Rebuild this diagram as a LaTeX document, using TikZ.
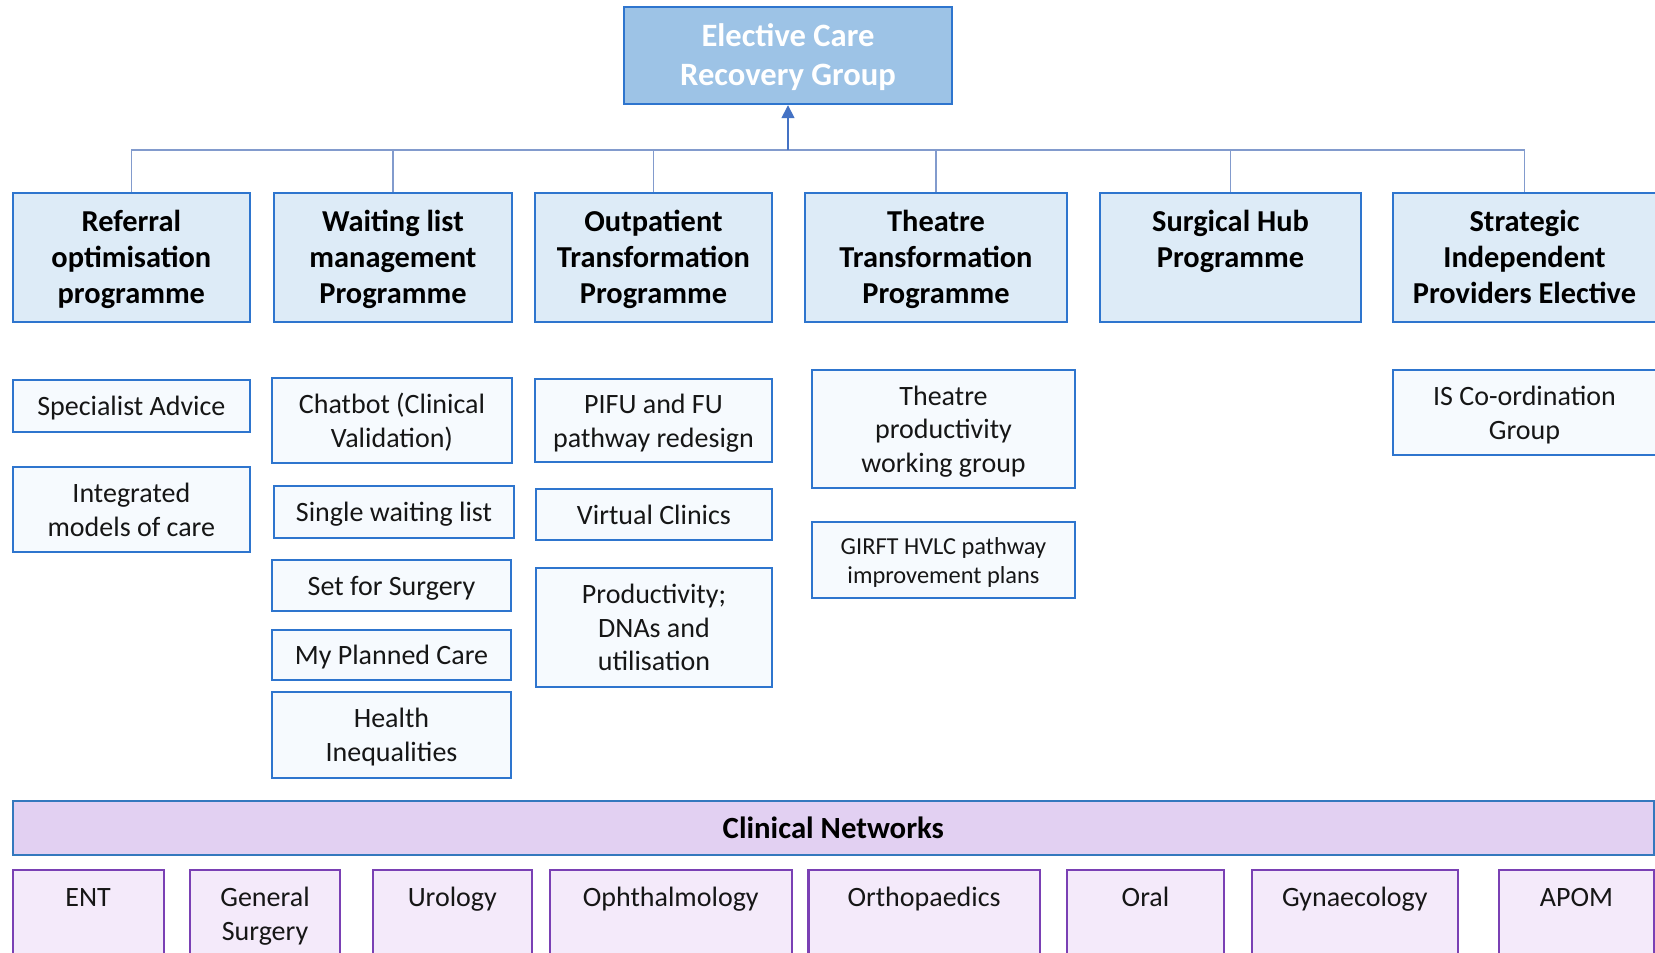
\documentclass[tikz,border=0pt]{standalone}
\usepackage{fontspec}
\setmainfont{Carlito}
\usetikzlibrary{arrows.meta}

\definecolor{topfill}{RGB}{157,195,230}
\definecolor{boxline}{RGB}{46,117,206}
\definecolor{progfill}{RGB}{221,235,247}
\definecolor{subfill}{RGB}{246,250,254}
\definecolor{connline}{RGB}{130,155,205}
\definecolor{arrowblue}{RGB}{68,114,196}
\definecolor{netfill}{RGB}{226,208,242}
\definecolor{netline}{RGB}{52,120,190}
\definecolor{specfill}{RGB}{244,234,250}
\definecolor{specline}{RGB}{122,64,180}
\definecolor{inkc}{RGB}{22,22,22}

% a strut with some extra room above, to set text slightly low in its box
\newcommand\tstrut{\rule{0pt}{\dimexpr0.7\baselineskip+3pt\relax}}

% box from corner (x1,y1) to (x2,y2), in pixel units
\newcommand\placebox[7]{%
  \pgfmathsetmacro\pbW{(#5-#3)*0.5}%
  \pgfmathsetmacro\pbH{(#6-#4)*0.5}%
  \node[#2, minimum width=\pbW pt, minimum height=\pbH pt] (#1) at ({(#3+#5)/2},{(#4+#6)/2}) {#7};%
}
% specialty box, open at the bottom edge, with its title at the top
\newcommand\netbox[4]{%
  \placebox{#1}{specbox}{#2}{870}{#3}{1000}{}%
  \node[spectext] (#1-t) at ({(#2+#3)/2},882) {\strut #4};%
}

\tikzset{
  topbox/.style={draw=boxline, line width=1.2pt, fill=topfill, inner sep=0pt,
    align=center, text=white, font=\fontsize{16.3}{19.5}\selectfont\bfseries},
  progbox/.style={draw=boxline, line width=1.1pt, fill=progfill, inner sep=0pt,
    align=center, text=black, font=\fontsize{15.2}{18}\selectfont\bfseries},
  subbox/.style={draw=boxline, line width=1.1pt, fill=subfill, inner sep=0pt,
    align=center, text=inkc, font=\fontsize{14}{16.8}\selectfont},
  smallbox/.style={subbox, font=\fontsize{12.2}{14.5}\selectfont},
  netbar/.style={draw=netline, line width=1.1pt, fill=netfill, inner sep=0pt,
    align=center, text=black, font=\fontsize{15.4}{18}\selectfont\bfseries},
  specbox/.style={draw=specline, line width=1.1pt, fill=specfill, inner sep=0pt},
  spectext/.style={anchor=north, inner sep=0pt, align=center, text=inkc,
    font=\fontsize{14}{17}\selectfont},
  conn/.style={draw=connline, line width=0.7pt},
  upline/.style={draw=arrowblue, line width=0.8pt, -{Triangle[width=6.5pt,length=6.5pt]}}
}

\begin{document}
\begin{tikzpicture}[x=0.5pt,y=-0.5pt]
\fill[white] (0,0) rectangle (1655,953);
\useasboundingbox (0,0) rectangle (1655,953);

% governing group
\placebox{top}{topbox}{624}{7}{952}{104}{\tstrut Elective Care\\Recovery Group\strut}

% programmes
\placebox{p1}{progbox}{12.7}{193}{250}{322}{\tstrut Referral\\optimisation\\programme\strut}
\placebox{p2}{progbox}{274}{193}{512}{322}{\tstrut Waiting list\\management\\Programme\strut}
\placebox{p3}{progbox}{535}{193}{772}{322}{\tstrut Outpatient\\Transformation\\Programme\strut}
\placebox{p4}{progbox}{805}{193}{1067}{322}{\tstrut Theatre\\Transformation\\Programme\strut}
\placebox{p5}{progbox}{1100}{193}{1361}{322}{\tstrut Surgical Hub\\Programme\\\strut}
\placebox{p6}{progbox}{1393}{193}{1656}{322}{\tstrut Strategic\\Independent\\Providers Elective\strut}

% reporting lines
\coordinate (bus) at (788,150);
\foreach \p in {p1,p2,p3,p4,p5,p6}
  \draw[conn] (\p.north) -- (\p.north |- bus);
\draw[conn] (p1.north |- bus) -- (p6.north |- bus);
\draw[upline] (bus) -- (top.south);

% workstreams
\placebox{s11}{subbox}{12.7}{380}{250}{432}{\tstrut Specialist Advice\strut}
\placebox{s12}{subbox}{12.7}{467}{250}{552}{\tstrut Integrated\\models of care\strut}

\placebox{s21}{subbox}{272}{378}{512}{463}{\tstrut Chatbot (Clinical\\Validation)\strut}
\placebox{s22}{subbox}{274}{486}{514}{538}{\tstrut Single waiting list\strut}
\placebox{s23}{subbox}{272}{560}{511}{611}{\tstrut Set for Surgery\strut}
\placebox{s24}{subbox}{272}{630}{511}{680}{\tstrut My Planned Care\strut}
\placebox{s25}{subbox}{272}{692}{511}{778}{\tstrut Health\\Inequalities\strut}

\placebox{s31}{subbox}{535}{379}{772}{462}{\tstrut PIFU and FU\\pathway redesign\strut}
\placebox{s32}{subbox}{536}{489}{772}{540}{\tstrut Virtual Clinics\strut}
\placebox{s33}{subbox}{536}{568}{772}{687}{\tstrut Productivity;\\DNAs and\\utilisation\strut}

\placebox{s41}{subbox}{812}{370}{1075}{488}{\tstrut Theatre\\productivity\\working group\strut}
\placebox{s42}{smallbox}{812}{522}{1075}{598}{\tstrut GIRFT HVLC pathway\\improvement plans\strut}

\placebox{s61}{subbox}{1393}{370}{1656}{455}{\tstrut IS Co-ordination\\Group\strut}

% clinical networks
\placebox{nets}{netbar}{12.7}{801}{1654}{855}{Clinical Networks}
\netbox{ent}{12.7}{163.6}{ENT}
\netbox{gs}{190}{340}{General\\Surgery}
\netbox{uro}{372.6}{532}{Urology}
\netbox{oph}{550}{791.6}{Ophthalmology}
\netbox{ort}{808.5}{1039.7}{Orthopaedics}
\netbox{oral}{1067}{1224}{Oral}
\netbox{gyn}{1252}{1457.7}{Gynaecology}
\netbox{apom}{1499}{1654}{APOM}
\end{tikzpicture}
\end{document}
